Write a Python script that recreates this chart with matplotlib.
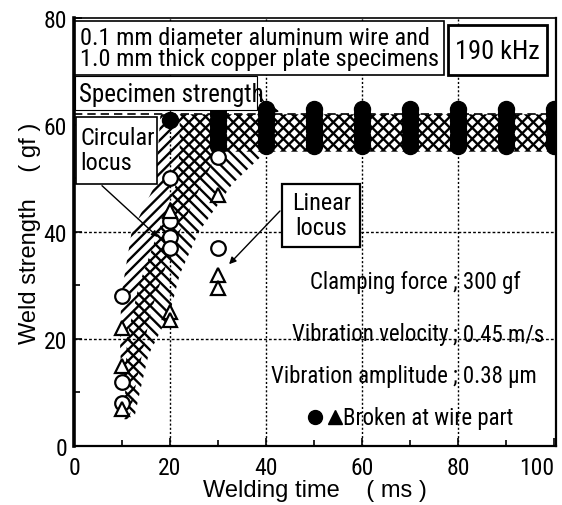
import matplotlib
matplotlib.use('Agg')
import matplotlib.pyplot as plt
from matplotlib import font_manager
from matplotlib.patches import Polygon, Rectangle

# narrow sans face, like the Helvetica Narrow of the original figure
names = set(f.name for f in font_manager.fontManager.ttflist)
FONT = next((n for n in ['Roboto Condensed', 'Archivo Narrow', 'PT Sans Narrow'] if n in names),
            'Liberation Sans')
plt.rcParams['font.family'] = [FONT, 'DejaVu Sans']
plt.rcParams['hatch.linewidth'] = 1.7

# open symbols (welded, not broken)
circ_x = [10, 10, 10, 20, 20, 20, 20, 30, 30]
circ_y = [28, 12, 8, 50, 42, 39, 37, 54, 37]
tri_x = [10, 10, 10, 20, 20, 20, 30, 30, 30]
tri_y = [22, 15, 7, 44, 25, 23.5, 47, 32, 29.5]

# filled symbols (broken at wire part)
broken_x = [20] + [x for x in range(30, 101, 10) for _ in range(8)]
broken_y = [61] + [y for _ in range(30, 101, 10) for y in (56, 57, 58, 59, 60, 61, 62, 63)]

specimen_strength = 62

# hatched regions (circular locus / linear locus)
circular_x = [10.5, 9.6, 9.8, 12, 17, 18, 100, 100, 30, 25, 20, 16, 13, 11.5]
circular_y = [5, 18, 28, 40, 49, 62, 62, 55, 55, 46, 36, 25, 12, 5]
linear_x = [10.5, 11, 13.5, 17.5, 21, 22, 22, 100, 100, 40, 33, 26, 22, 20, 15.5, 13.7, 12.5]
linear_y = [6, 20, 30, 40, 48, 55, 62, 62, 55, 55, 49, 40, 32, 25, 17, 10, 5]

fig = plt.figure(figsize=(5.62, 5.06), dpi=100)
ax = fig.add_axes([0.1317, 0.1166, 0.8577, 0.846])

ax.set_xlim(0, 100.4)
ax.set_ylim(0, 80)
ax.set_xticks(range(0, 101, 20))
ax.set_xticks(range(10, 101, 20), minor=True)
ax.set_yticks(range(0, 81, 20))
ax.set_yticks(range(10, 80, 20), minor=True)
ax.tick_params(which='both', direction='in', width=1.2, labelsize=17, top=False, right=False)
ax.tick_params(which='major', length=6)
ax.tick_params(which='minor', length=4)
ax.tick_params(axis='x', pad=7)
ax.tick_params(axis='y', pad=5)
for side, lw in [('left', 2.6), ('bottom', 1.6), ('right', 1.6), ('top', 1.2)]:
    ax.spines[side].set_linewidth(lw)

for x in [20, 40, 60, 80]:
    ax.axvline(x, color='black', lw=1, ls=(0, (1.5, 1.5)), zorder=1)
for y in [20, 40]:
    ax.axhline(y, color='black', lw=1, ls=(0, (2, 1.5)), zorder=1)

ax.add_patch(Polygon(list(zip(circular_x, circular_y)), closed=True, fill=False,
                     hatch='///', edgecolor='black', lw=0, zorder=2))
ax.add_patch(Polygon(list(zip(linear_x, linear_y)), closed=True, fill=False,
                     hatch='\\\\\\', edgecolor='black', lw=0, zorder=2))

ax.axhline(specimen_strength, color='black', lw=1.2, ls=(0, (5, 3)), zorder=3)

ax.plot(broken_x, broken_y, 'o', color='black', ms=11.5, zorder=4)
ax.plot(circ_x, circ_y, 'o', mfc='white', mec='black', mew=1.6, ms=10.5, zorder=5)
ax.plot(tri_x, tri_y, '^', mfc='white', mec='black', mew=1.6, ms=10.5, zorder=5)

# annotation boxes
ax.add_patch(Rectangle((0.2, 69.3), 76.8, 10.1, facecolor='white', edgecolor='black', lw=1.2, zorder=6))
ax.text(1.2, 74.4, '0.1 mm diameter aluminum wire and\n1.0 mm thick copper plate specimens',
        fontsize=17.5, va='center', ha='left', linespacing=0.9, zorder=7)
ax.add_patch(Rectangle((78, 69.3), 20.5, 9.3, facecolor='white', edgecolor='black', lw=2, zorder=6))
ax.text(88.2, 73.9, '190 kHz', fontsize=19, ha='center', va='center', zorder=7)

ax.add_patch(Rectangle((0.2, 62.8), 38, 6.3, facecolor='white', edgecolor='black', lw=0.8, zorder=6))
ax.text(1.0, 65.8, 'Specimen strength', fontsize=18, ha='left', va='center', zorder=7)
ax.annotate('', xy=(43.3, 62.4), xytext=(38.4, 66.2),
            arrowprops=dict(arrowstyle='-|>', color='black', lw=1, mutation_scale=8,
                            connectionstyle='arc3,rad=0.3'), zorder=7)

ax.add_patch(Rectangle((0.4, 49.0), 16.8, 12.5, facecolor='white', edgecolor='black', lw=1.2, zorder=6))
ax.text(1.3, 55.3, 'Circular\nlocus', fontsize=17.5, ha='left', va='center', linespacing=1.1, zorder=7)
ax.annotate('', xy=(17.9, 38.7), xytext=(5.4, 49.0),
            arrowprops=dict(arrowstyle='-|>', color='black', lw=1, mutation_scale=9), zorder=7)

ax.add_patch(Rectangle((43.3, 37.2), 16.3, 11.8, facecolor='white', edgecolor='black', lw=1.6, zorder=6))
ax.text(51.5, 43.1, 'Linear\nlocus', fontsize=17.5, ha='center', va='center', linespacing=1.1, zorder=7)
ax.annotate('', xy=(31.9, 33.6), xytext=(43.3, 44.3),
            arrowprops=dict(arrowstyle='-|>', color='black', lw=1, mutation_scale=10), zorder=7)

# conditions, aligned on the semicolon
cond_left = ['Clamping force', 'Vibration velocity', 'Vibration amplitude']
cond_right = ['; 300 gf', '; 0.45 m/s', '; 0.38 \u00b5m']
cond_y = [30.7, 21.0, 13.1]
for l, r, y in zip(cond_left, cond_right, cond_y):
    ax.text(79.0, y, l + ' ', fontsize=16.5, ha='right', va='center', zorder=7)
    ax.text(79.0, y, r, fontsize=16.5, ha='left', va='center', zorder=7)

ax.plot([50.2], [5.4], 'o', color='black', ms=10, zorder=7)
ax.plot([54.4], [5.4], '^', color='black', ms=10, zorder=7)
ax.text(56.0, 5.4, 'Broken at wire part', fontsize=16.5, ha='left', va='center', zorder=7)

ax.set_xlabel('Welding time    ( ms )', fontsize=17, labelpad=0,
              family=['Liberation Sans', 'DejaVu Sans'])
ax.set_ylabel('Weld strength    ( gf )', fontsize=17, labelpad=2,
              family=['Liberation Sans', 'DejaVu Sans'])

# last x tick label sits inside the figure, as in the original
fig.canvas.draw()
ax.get_xticklabels()[-1].set_horizontalalignment('right')

fig.savefig('out.png', dpi=100)
